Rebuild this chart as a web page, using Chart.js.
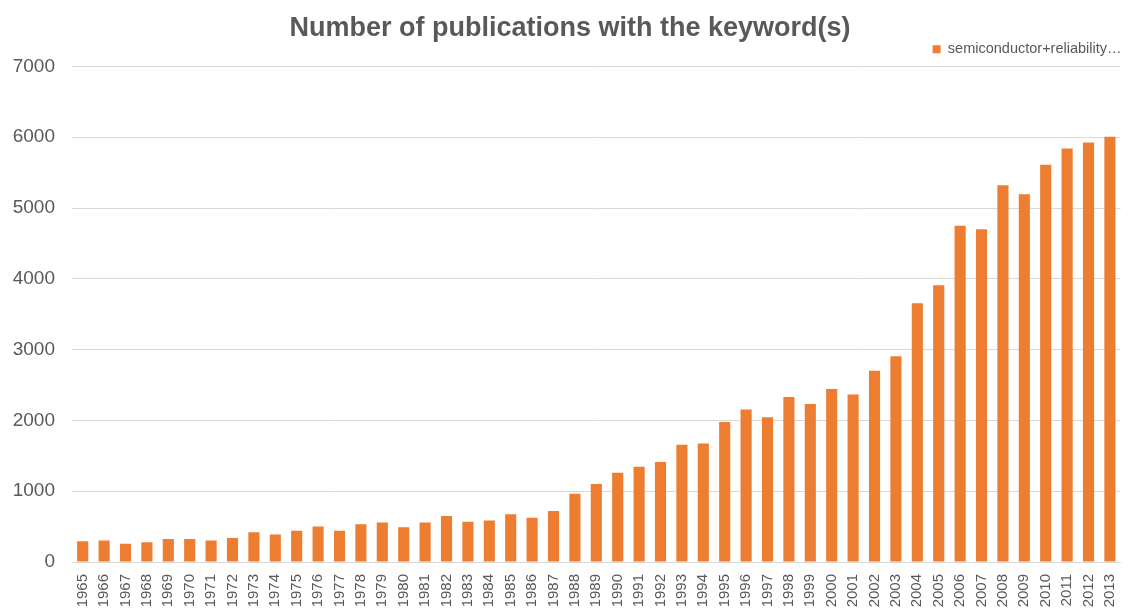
<!DOCTYPE html>
<html>
<head>
<meta charset="utf-8">
<script src="https://cdn.jsdelivr.net/npm/chart.js@4"></script>
<style>
  body { margin: 0; background: #fff; }
  #wrap { width: 1132px; height: 610px; }
</style>
</head>
<body>
<div id="wrap"><canvas id="chart"></canvas></div>
<script>
// years on the x axis
const years = ['1965','1966','1967','1968','1969','1970','1971','1972','1973','1974','1975','1976','1977',
  '1978','1979','1980','1981','1982','1983','1984','1985','1986','1987','1988','1989','1990','1991',
  '1992','1993','1994','1995','1996','1997','1998','1999','2000','2001','2002','2003','2004','2005',
  '2006','2007','2008','2009','2010','2011','2012','2013'];

// publications per year
const publications = [292, 302, 259, 278, 325, 325, 302, 340, 420, 387, 443, 500, 443,
  533, 557, 490, 557, 651, 570, 585, 673, 626, 720, 965, 1101, 1261, 1346,
  1412, 1656, 1675, 1976, 2155, 2045, 2332, 2230, 2445, 2365, 2700, 2905, 3655, 3910,
  4750, 4700, 5320, 5195, 5610, 5840, 5925, 6005];

const seriesName = 'semiconductor+reliability…';
const chartTitle = 'Number of publications with the keyword(s)';
const yTicks = [0, 1000, 2000, 3000, 4000, 5000, 6000, 7000];

const textColor = '#595959';
const gridColor = '#D9D9D9';
const fontFamily = '"Liberation Sans", Arial, sans-serif';

// nudge the title a little to the right, like the original
const titleShift = {
  id: 'titleShift',
  afterLayout(chart) {
    chart.titleBlock.left += 16;
  }
};

const ctx = document.getElementById('chart').getContext('2d');
const chart = new Chart(ctx, {
  type: 'bar',
  data: {
    labels: years,
    datasets: [{
      label: seriesName,
      data: publications,
      backgroundColor: '#ED7D31',
      categoryPercentage: 1.0,
      barPercentage: 0.52
    }]
  },
  options: {
    responsive: true,
    maintainAspectRatio: false,
    animation: false,
    layout: { padding: { left: 0, right: 8, top: 0, bottom: 0 } },
    plugins: {
      tooltip: { enabled: false },
      title: {
        display: true,
        text: chartTitle,
        color: textColor,
        font: { family: fontFamily, size: 27, weight: 'bold' },
        padding: { top: 12, bottom: -5 }
      },
      legend: {
        position: 'top',
        align: 'end',
        labels: {
          color: textColor,
          font: { family: fontFamily, size: 14.5 },
          boxWidth: 8,
          boxHeight: 8,
          padding: 2.5
        }
      }
    },
    scales: {
      x: {
        grid: { display: false },
        border: { color: gridColor, width: 1 },
        ticks: {
          color: textColor,
          font: { family: fontFamily, size: 15 },
          minRotation: 90,
          maxRotation: 90,
          autoSkip: false,
          padding: 4
        },
        afterFit: scale => { scale.height = 48; }
      },
      y: {
        min: 0,
        max: 7000,
        afterBuildTicks: scale => { scale.ticks = yTicks.map(v => ({ value: v })); },
        grid: { color: gridColor, drawTicks: false },
        border: { display: false },
        ticks: {
          color: textColor,
          font: { family: fontFamily, size: 19 },
          padding: 17,
          callback: v => String(v)
        },
        afterFit: scale => { scale.width = 72; }
      }
    }
  },
  plugins: [titleShift]
});
</script>
</body>
</html>
